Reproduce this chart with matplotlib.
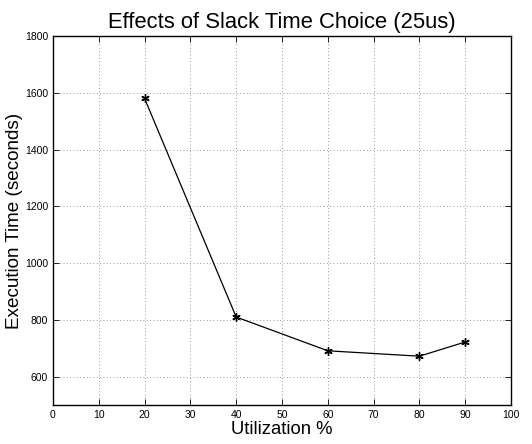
import matplotlib
matplotlib.use("Agg")
import matplotlib.pyplot as plt

utilization = [20, 40, 60, 80, 90]
exec_time = [1580, 810, 691, 672, 722]
xticks = [0, 10, 20, 30, 40, 50, 60, 70, 80, 90, 100]
yticks = [600, 800, 1000, 1200, 1400, 1600, 1800]

plt.rcParams['font.family'] = ['Liberation Sans', 'DejaVu Sans']
fig = plt.figure(figsize=(5.32, 4.44), dpi=100)
ax = fig.add_axes([0.0996, 0.0878, 0.9605 - 0.0996, 0.9189 - 0.0878])
ax.plot(utilization, exec_time, color='black', lw=0.9, marker=(6, 2, 0), ms=6,
        markeredgewidth=1.0)
ax.set_xlim(0, 100)
ax.set_ylim(500, 1800)
ax.set_xticks(xticks)
ax.set_yticks(yticks)
ax.tick_params(direction='in', top=True, right=True, labelsize=7.5, length=4, width=0.6)
ax.grid(True, linestyle=(0, (1, 3)), color='#777777', lw=0.6)
for s in ax.spines.values():
    s.set_linewidth(1.0)
ax.set_xlabel('Utilization %', fontsize=13.3, labelpad=1)
ax.set_ylabel('Execution Time (seconds)', fontsize=13.6)
ax.yaxis.set_label_coords(-0.0655, 0.5)
ax.set_title('Effects of Slack Time Choice (25us)', fontsize=15.8, pad=6)
fig.savefig('out.png', dpi=100)
